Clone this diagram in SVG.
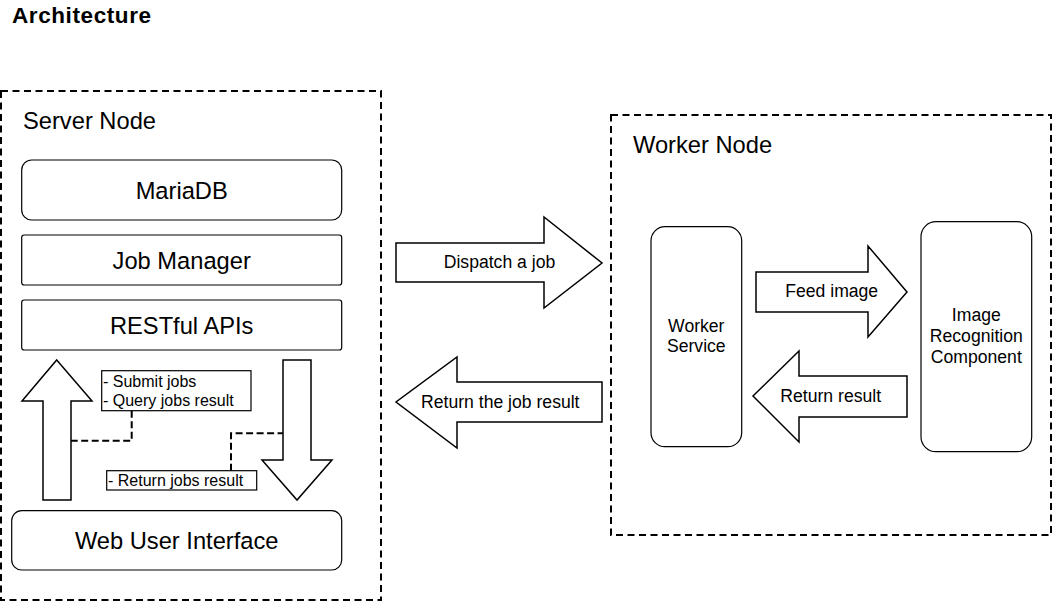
<svg xmlns="http://www.w3.org/2000/svg" width="1052" height="602" viewBox="0 0 1052 602">
<style>
text{font-family:"Liberation Sans",Arial,sans-serif;fill:#000}
.big{font-size:23.7px}
.med{font-size:17.6px}
.sm{font-size:16px}
.mid{text-anchor:middle}
.box{fill:#fff;stroke:#000;stroke-width:1.2}
.cont{fill:none;stroke:#000;stroke-width:2;stroke-dasharray:7 4.5}
.arrow{fill:#fff;stroke:#000;stroke-width:1.5;stroke-linejoin:miter}
.dash{fill:none;stroke:#000;stroke-width:2;stroke-dasharray:7 3.5}
.lbl{fill:#fff;stroke:#000;stroke-width:1.2}
</style>
<rect width="1052" height="602" fill="#fff"/>
<text x="12" y="22.7" style="font-weight:bold;font-size:22.5px" textLength="139" lengthAdjust="spacing">Architecture</text>

<g id="server-node">
<rect class="cont" x="1" y="91" width="380" height="509"/>
<text class="big" x="23" y="129">Server Node</text>
</g>
<g id="worker-node">
<rect class="cont" x="611" y="115" width="440" height="420"/>
<text class="big" x="633" y="153.3">Worker Node</text>
</g>

<g id="mariadb">
<rect class="box" x="21.7" y="160" width="320" height="60" rx="10"/>
<text class="big mid" x="181.7" y="199">MariaDB</text>
</g>
<g id="job-manager">
<rect class="box" x="21.7" y="235" width="320" height="50" rx="2.5"/>
<text class="big mid" x="181.7" y="268.8">Job Manager</text>
</g>
<g id="restful-apis">
<rect class="box" x="21.7" y="300" width="320" height="50" rx="2.5"/>
<text class="big mid" x="181.7" y="334">RESTful APIs</text>
</g>
<g id="web-ui">
<rect class="box" x="11.7" y="510.7" width="330" height="59.3" rx="10"/>
<text class="big mid" x="176.7" y="549.3">Web User Interface</text>
</g>
<g id="worker-service">
<rect class="box" x="651" y="226.7" width="90.7" height="220" rx="14"/>
<text class="med mid" x="696.3" y="331.7">Worker</text>
<text class="med mid" x="696.3" y="352.3">Service</text>
</g>
<g id="image-recognition">
<rect class="box" x="921" y="221.7" width="110.7" height="230" rx="15"/>
<text class="med mid" x="976.3" y="320.7">Image</text>
<text class="med mid" x="976.3" y="341.7">Recognition</text>
<text class="med mid" x="976.3" y="363.3">Component</text>
</g>

<g id="connectors">
<polygon class="arrow" points="56.7,360 92,401 71,401 71,500 43,500 43,401 22,401"/>
<polygon class="arrow" points="283,360 311,360 311,460 332,460 297,500 262,460 283,460"/>
<path class="dash" d="M131.7,410.7 V440.7 H71"/>
<path class="dash" d="M231,470.7 V433.3 H283"/>
<g id="label-submit">
<rect class="lbl" x="101.7" y="370.7" width="149.3" height="40"/>
<text class="sm" x="103" y="386.5">- Submit jobs</text>
<text class="sm" x="103" y="405.5">- Query jobs result</text>
</g>
<g id="label-return">
<rect class="lbl" x="106.7" y="470.7" width="150" height="19.3"/>
<text class="sm" x="108" y="485.5">- Return jobs result</text>
</g>
<g id="dispatch">
<polygon class="arrow" points="396,243 544,243 544,217 602,263 544,308 544,282 396,282"/>
<text class="med mid" x="499.5" y="268.3">Dispatch a job</text>
</g>
<g id="return-job">
<polygon class="arrow" points="602,382 457,382 457,357 396,402 457,448 457,422 602,422"/>
<text class="med mid" x="500.3" y="408.3">Return the job result</text>
</g>
<g id="feed-image">
<polygon class="arrow" points="756,272 868,272 868,246 907,292 868,337 868,312 756,312"/>
<text class="med mid" x="831.7" y="296.7">Feed image</text>
</g>
<g id="return-result">
<polygon class="arrow" points="907,376 799,376 799,351 753,396 799,442 799,417 907,417"/>
<text class="med mid" x="830.7" y="401.7">Return result</text>
</g>
</g>
</svg>
